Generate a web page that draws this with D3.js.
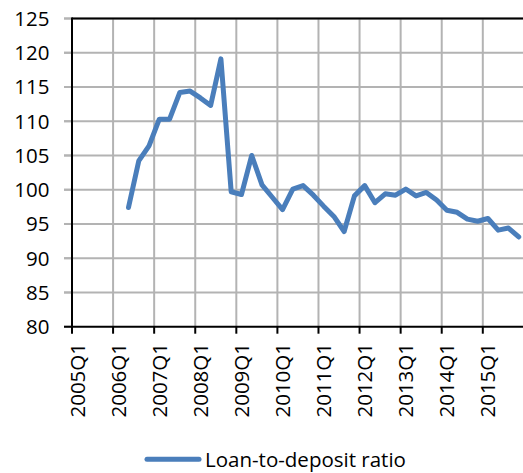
<!DOCTYPE html>
<html><head><meta charset="utf-8">
<script src="https://cdn.jsdelivr.net/npm/d3@7"></script>
<style>body{margin:0;background:#fff}svg{display:block}</style>
</head><body>
<svg id="c" width="523" height="473"></svg>
<script>
const years = [2005,2006,2007,2008,2009,2010,2011,2012,2013,2014,2015];
const quarters = years.flatMap(y => [1,2,3,4].map(q => y + "Q" + q));
const ratio = [null,null,null,null,null,
  97.4,104.2,106.4,110.3,110.3,114.2,114.4,113.4,112.3,119.1,99.7,
  99.3,105.0,100.7,98.9,97.1,100.1,100.6,99.2,97.6,96.1,93.9,99.1,
  100.6,98.1,99.4,99.2,100.1,99.1,99.6,98.5,97.0,96.7,95.7,95.4,
  95.8,94.1,94.4,93.1];
const yTicks = [80,85,90,95,100,105,110,115,120,125];
const seriesName = "Loan-to-deposit ratio";

const svg = d3.select("#c");
const L = 72, T = 18.5, B = 326.7, R = 72 + 44*10.27;
const font = "'Open Sans', sans-serif";
const fs = 20.5;

const x = d3.scaleBand().domain(quarters).range([L, R]).padding(0);
const y = d3.scaleLinear().domain([80,125]).range([B, T]);

svg.append("g").selectAll("line").data(yTicks.slice(1)).join("line")
  .attr("x1", L - 8).attr("x2", R).attr("y1", d=>y(d)).attr("y2", d=>y(d))
  .attr("stroke", "#b3b3b3").attr("stroke-width", 2);
const yearStarts = quarters.filter(q => q.endsWith("Q1"));
svg.append("g").selectAll("line").data(yearStarts.slice(1)).join("line")
  .attr("x1", d=>x(d)).attr("x2", d=>x(d)).attr("y1", T).attr("y2", B)
  .attr("stroke", "#b3b3b3").attr("stroke-width", 2);

svg.append("g").selectAll("line").data(yTicks).join("line")
  .attr("x1", L - 8).attr("x2", L).attr("y1", d=>y(d)).attr("y2", d=>y(d))
  .attr("stroke", "#b3b3b3").attr("stroke-width", 2);
svg.append("g").selectAll("line").data(yearStarts).join("line")
  .attr("x1", d=>x(d)).attr("x2", d=>x(d)).attr("y1", B).attr("y2", B + 7)
  .attr("stroke", "#000").attr("stroke-width", 2);

svg.append("line").attr("x1", L).attr("x2", R).attr("y1", T).attr("y2", T).attr("stroke","#000").attr("stroke-width",2);
svg.append("line").attr("x1", L).attr("x2", L).attr("y1", T - 1).attr("y2", B + 1).attr("stroke","#000").attr("stroke-width",2);
svg.append("line").attr("x1", L - 8).attr("x2", R).attr("y1", B).attr("y2", B).attr("stroke","#000").attr("stroke-width",2);

svg.append("g").selectAll("text").data(yTicks).join("text")
  .attr("x", 49.5).attr("y", d=>y(d)).attr("dy", "0.36em")
  .attr("text-anchor", "end").attr("font-family", font).attr("font-size", fs)
  .attr("fill", "#000").text(d=>d);

svg.append("g").selectAll("text").data(yearStarts).join("text")
  .attr("transform", d => `translate(${x(d) + x.bandwidth()/2},343) rotate(-90)`)
  .attr("dy", "0.36em").attr("text-anchor", "end")
  .attr("font-family", font).attr("font-size", fs).attr("fill", "#000").text(d=>d);

const line = d3.line().defined(d => d[1] != null)
  .x(d => x(d[0]) + x.bandwidth()/2).y(d => y(d[1]));
svg.append("path").datum(quarters.map((q,i)=>[q, ratio[i]]))
  .attr("d", line).attr("fill","none").attr("stroke","#4a7ebb")
  .attr("stroke-width", 5).attr("stroke-linejoin","round").attr("stroke-linecap","round");

svg.append("line").attr("x1", 147).attr("x2", 199).attr("y1", 459.3).attr("y2", 459.3)
  .attr("stroke","#4a7ebb").attr("stroke-width",5).attr("stroke-linecap","round");
svg.append("text").attr("x", 205).attr("y", 466.5).attr("font-family", font).attr("font-size", fs)
  .attr("fill","#000").text(seriesName);
</script>
</body></html>
